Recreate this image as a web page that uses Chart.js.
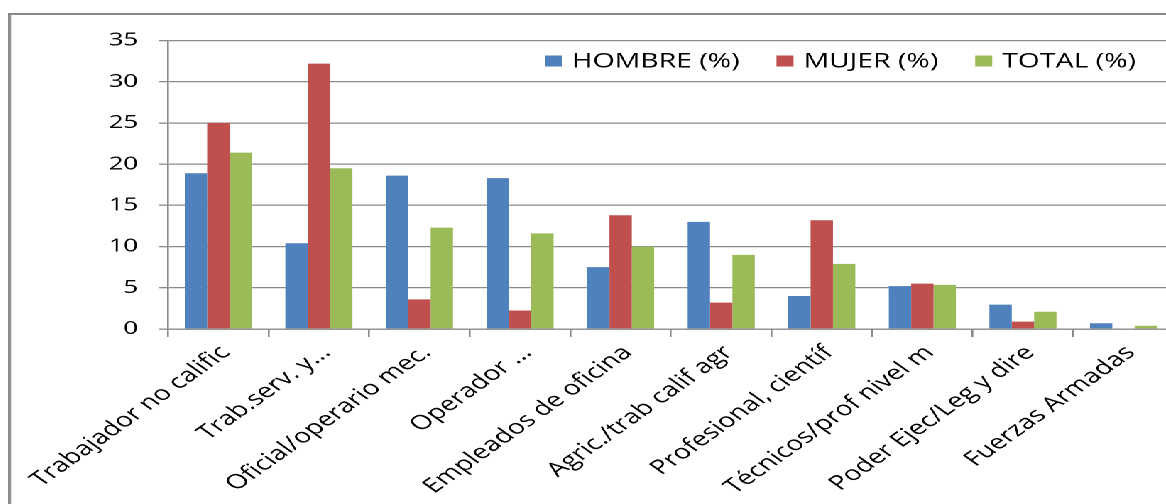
<!DOCTYPE html>
<html lang="es">
<head>
<meta charset="utf-8">
<title>Ocupación por sexo</title>
<script src="https://cdn.jsdelivr.net/npm/chart.js@4/dist/chart.umd.min.js"></script>
<style>
    html, body { margin: 0; padding: 0; background: #fff; overflow: hidden; }
    body { width: 1166px; height: 504px; position: relative; }
    /* the original picture is stretched sideways, so the whole frame is too */
    #frame {
        position: absolute;
        left: 8px;
        top: 13px;
        width: 826px;
        height: 500px;
        border: 2px solid #878787;
        transform: scaleX(1.42);
        transform-origin: 0 0;
        background: #fff;
    }
    canvas { display: block; }
</style>
</head>
<body>
<div id="frame"><canvas id="chart" width="826" height="500"></canvas></div>
<script>
// Data
const categories = [
    'Trabajador no calific',
    'Trab.serv. y...',
    'Oficial/operario mec.',
    'Operador ...',
    'Empleados de oficina',
    'Agric./trab calif agr',
    'Profesional, científ',
    'Técnicos/prof nivel m',
    'Poder Ejec/Leg y dire',
    'Fuerzas Armadas'
];
const seriesNames = ['HOMBRE (%)', 'MUJER (%)', 'TOTAL (%)'];
const hombre = [18.9, 10.4, 18.6, 18.3, 7.5, 13.0, 4.0, 5.2, 2.95, 0.7];
const mujer = [25.0, 32.2, 3.6, 2.25, 13.8, 3.2, 13.2, 5.5, 0.9, 0];
const total = [21.4, 19.5, 12.3, 11.6, 10.0, 9.0, 7.9, 5.35, 2.1, 0.4];
const yMin = 0, yMax = 35, yStep = 5;

const colors = ['#4F81BD', '#C0504D', '#9BBB59'];
const gridColor = '#8a8a8a';
const textColor = '#000';
const fontFamily = "'Open Sans', sans-serif";

// Legend drawn inside the plot, top right, like the Excel original
const insideLegend = {
    id: 'insideLegend',
    afterDraw(chart) {
        const ctx = chart.ctx;
        const y = 46;
        let x = 376;
        ctx.save();
        ctx.font = `20px ${fontFamily}`;
        ctx.textBaseline = 'middle';
        ctx.textAlign = 'left';
        chart.data.datasets.forEach(ds => {
            ctx.fillStyle = ds.backgroundColor;
            ctx.fillRect(x, y - 5.5, 12, 11);
            x += 19;
            ctx.fillStyle = textColor;
            ctx.fillText(ds.label, x, y + 1);
            x += ctx.measureText(ds.label).width + 26;
        });
        ctx.restore();
    }
};

const ctx = document.getElementById('chart').getContext('2d');
new Chart(ctx, {
    type: 'bar',
    data: {
        labels: categories,
        datasets: [hombre, mujer, total].map((values, i) => ({
            label: seriesNames[i],
            data: values,
            backgroundColor: colors[i],
            borderWidth: 0,
            categoryPercentage: 0.667,
            barPercentage: 1.0
        }))
    },
    options: {
        responsive: false,
        animation: false,
        devicePixelRatio: 2,
        layout: { padding: { top: 24, right: 7, bottom: 0, left: 0 } },
        plugins: {
            legend: { display: false },
            tooltip: { enabled: false }
        },
        scales: {
            x: {
                offset: true,
                grid: {
                    display: true,
                    drawOnChartArea: false,
                    drawTicks: true,
                    tickLength: 8,
                    color: gridColor,
                    lineWidth: 1.3
                },
                border: { display: true, color: gridColor, width: 1.3 },
                ticks: {
                    autoSkip: false,
                    maxRotation: 45,
                    minRotation: 45,
                    padding: 4,
                    labelOffset: 5,
                    color: textColor,
                    font: { family: fontFamily, size: 20 }
                },
                // keep the long rotated labels from pushing the plot to the right
                afterFit: scale => {
                    scale.height = 186;
                    scale.paddingLeft = 0;
                    scale.paddingRight = 0;
                }
            },
            y: {
                min: yMin,
                max: yMax,
                ticks: {
                    stepSize: yStep,
                    padding: 14.7,
                    color: textColor,
                    font: { family: fontFamily, size: 18 }
                },
                grid: {
                    color: gridColor,
                    lineWidth: 1.3,
                    drawTicks: true,
                    tickLength: 6.4
                },
                border: { display: true, color: gridColor, width: 1.3 },
                afterFit: scale => { scale.width = 110.7; }
            }
        }
    },
    plugins: [insideLegend]
});
</script>
</body>
</html>
